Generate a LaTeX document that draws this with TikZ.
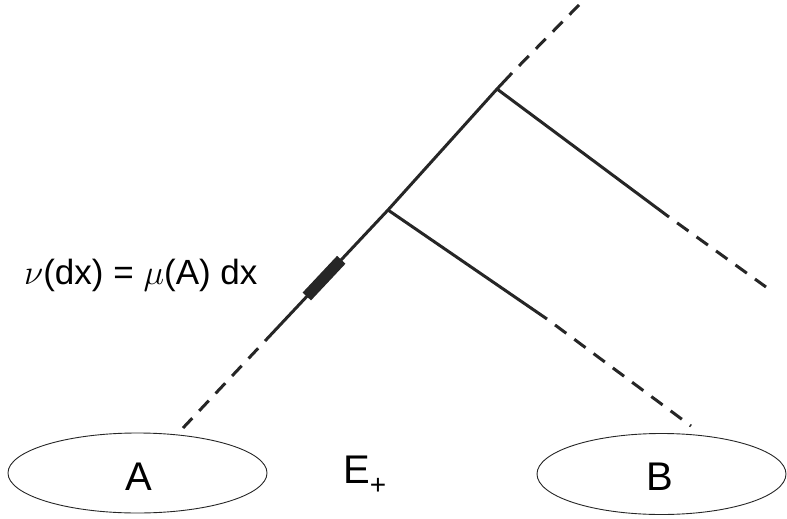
\RequirePackage{fix-cm}
\documentclass[tikz,border=0pt]{standalone}
\usepackage{fontspec}
\setmainfont{Liberation Sans}
\usetikzlibrary{shapes.geometric,calc}
\definecolor{ink}{HTML}{262626}
\begin{document}
\begin{tikzpicture}[x=1pt,y=-1pt,
  branch/.style={draw=ink,line width=3pt},
  dashpart/.style={branch,dash pattern=on 14pt off 10pt,dash phase=14pt},
  region/.style={ellipse,draw=ink,line width=0.9pt,inner sep=0pt},
  big/.style={font=\fontsize{40}{48}\selectfont,text=black,inner sep=0pt},
  lbl/.style={font=\fontsize{35}{42}\selectfont,text=black,inner sep=0pt}]
\useasboundingbox (0,0) rectangle (787,519);
% regions
\node[region,minimum width=259pt,minimum height=80pt] (A) at (137.5,473) {};
\node[region,minimum width=249pt,minimum height=81pt] (B) at (661.5,474) {};
\node[big] (Atext) at (139,476.5) {A};
\node[big] (Btext) at (660,476.5) {B};
\node[big,anchor=base west] (E) at (343,483) {E\raisebox{-11pt}{\fontsize{28}{30}\selectfont +}};
% main line points
\coordinate (bot) at (183,428);
\coordinate (s1) at (265,341);
\coordinate (j1) at (388,210);
\coordinate (j2) at (497,89);
\coordinate (s2) at (512,73);
\coordinate (top) at (579,5);
% branch points
\coordinate (b1s) at (547,319);
\coordinate (b1e) at (691,426);
\coordinate (b2s) at (669,217);
\coordinate (b2e) at (766,287);
% solid parts
\draw[branch] (s1) -- (j1) -- (j2) -- (s2);
\draw[branch] (j1) -- (b1s);
\draw[branch] (j2) -- (b2s);
% dashed parts
\draw[dashpart] (s1) -- (bot);
\draw[dashpart] (s2) -- (top);
\draw[dashpart] (b1s) -- (b1e);
\draw[dashpart] (b2s) -- (b2e);
% thick block
\coordinate (blkA) at ($(s1)!0.34!(j1)$);
\coordinate (blkB) at ($(s1)!0.62!(j1)$);
\draw[ink,line width=11.5pt] (blkA) -- (blkB);
% label
\node[lbl,anchor=base west] (nu) at (24,284) {$\nu$(dx) = $\mu$(A) dx};
\end{tikzpicture}
\end{document}
